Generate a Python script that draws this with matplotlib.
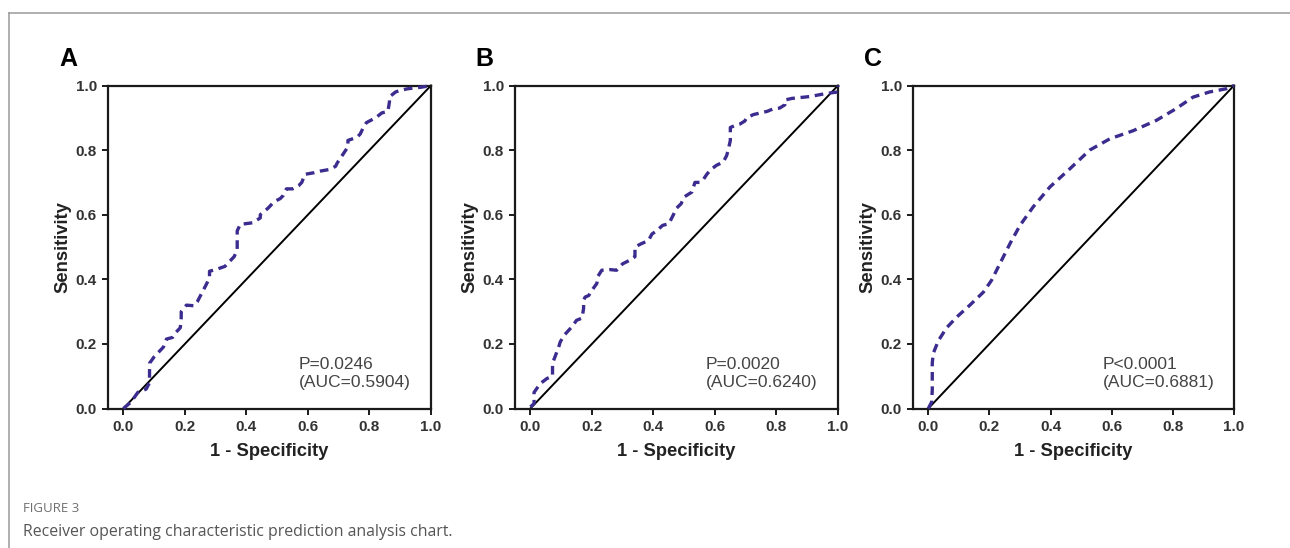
import matplotlib
matplotlib.use("Agg")
import matplotlib.pyplot as plt
from matplotlib.lines import Line2D

# ---------------- data ----------------
panel_letters = ["A", "B", "C"]
annotations = ["P=0.0246\n(AUC=0.5904)", "P=0.0020\n(AUC=0.6240)", "P<0.0001\n(AUC=0.6881)"]
tick_values = [0.0, 0.2, 0.4, 0.6, 0.8, 1.0]
tick_labels = ["0.0", "0.2", "0.4", "0.6", "0.8", "1.0"]
x_label = "1 - Specificity"
y_label = "Sensitivity"
caption_title = "FIGURE 3"
caption_text = "Receiver operating characteristic prediction analysis chart."

fpr_A = [0, 0.025, 0.047, 0.074, 0.085, 0.085, 0.10, 0.13, 0.14, 0.16, 0.17, 0.185, 0.188,
         0.188, 0.205, 0.23, 0.24, 0.27, 0.28, 0.28, 0.30, 0.33, 0.34, 0.36, 0.37, 0.37, 0.38,
         0.42, 0.445, 0.445, 0.47, 0.49, 0.51, 0.52, 0.53, 0.55, 0.57, 0.58, 0.59, 0.62, 0.64,
         0.67, 0.69, 0.695, 0.73, 0.73, 0.76, 0.77, 0.78, 0.79, 0.81, 0.82, 0.84, 0.86, 0.865,
         0.865, 0.885, 0.90, 0.925, 0.97, 1.0]
tpr_A = [0, 0.02, 0.05, 0.06, 0.08, 0.14, 0.16, 0.19, 0.215, 0.22, 0.235, 0.25, 0.28,
         0.30, 0.32, 0.318, 0.33, 0.385, 0.405, 0.425, 0.43, 0.44, 0.45, 0.47, 0.49, 0.55, 0.57,
         0.575, 0.59, 0.60, 0.62, 0.64, 0.65, 0.66, 0.68, 0.68, 0.69, 0.70, 0.725, 0.73, 0.735,
         0.74, 0.75, 0.76, 0.81, 0.83, 0.84, 0.85, 0.87, 0.885, 0.895, 0.90, 0.915, 0.92, 0.95,
         0.965, 0.98, 0.985, 0.99, 0.995, 1.0]

fpr_B = [0, 0.012, 0.012, 0.032, 0.054, 0.072, 0.072, 0.092, 0.097, 0.11, 0.135, 0.15, 0.168,
         0.173, 0.173, 0.178, 0.19, 0.20, 0.216, 0.22, 0.232, 0.26, 0.28, 0.30, 0.325, 0.34,
         0.34, 0.36, 0.384, 0.395, 0.41, 0.43, 0.45, 0.465, 0.475, 0.49, 0.50, 0.525, 0.535,
         0.55, 0.56, 0.575, 0.59, 0.605, 0.627, 0.638, 0.643, 0.65, 0.65, 0.665, 0.68, 0.697,
         0.703, 0.725, 0.77, 0.79, 0.81, 0.827, 0.827, 0.85, 0.90, 0.91, 0.96, 1.0, 1.0]
tpr_B = [0.005, 0.015, 0.05, 0.077, 0.093, 0.10, 0.14, 0.19, 0.206, 0.227, 0.253, 0.273, 0.28,
         0.31, 0.335, 0.345, 0.35, 0.366, 0.387, 0.41, 0.428, 0.43, 0.428, 0.448, 0.46, 0.47,
         0.50, 0.51, 0.52, 0.54, 0.55, 0.567, 0.572, 0.60, 0.62, 0.634, 0.655, 0.67, 0.70,
         0.70, 0.706, 0.727, 0.742, 0.753, 0.763, 0.783, 0.80, 0.83, 0.87, 0.876, 0.88, 0.89,
         0.90, 0.91, 0.92, 0.928, 0.93, 0.94, 0.955, 0.96, 0.965, 0.966, 0.975, 0.98, 1.0]

fpr_C = [0, 0.011, 0.013, 0.013, 0.016, 0.033, 0.06, 0.093, 0.136, 0.18, 0.207, 0.234, 0.267,
         0.30, 0.343, 0.398, 0.463, 0.528, 0.594, 0.67, 0.746, 0.81, 0.866, 0.92, 0.975, 1.0]
tpr_C = [0, 0.02, 0.057, 0.14, 0.17, 0.21, 0.25, 0.283, 0.32, 0.36, 0.397, 0.448, 0.51,
         0.567, 0.624, 0.686, 0.742, 0.80, 0.835, 0.86, 0.892, 0.928, 0.964, 0.98, 0.99, 1.0]

fprs = [fpr_A, fpr_B, fpr_C]
tprs = [tpr_A, tpr_B, tpr_C]

# ---------------- layout ----------------
W, H = 1290, 548
fig = plt.figure(figsize=(W / 100, H / 100), dpi=100)
fig.patch.set_facecolor("white")

ax_left_px = [108, 515, 913]
ax_right_px = [431, 838, 1234]
ax_top_px, ax_bot_px = 85.5, 408.5
letter_pos_px = [(68.5, 59), (484, 59), (873, 59)]
ylabel_offset_px = 45

curve_color = "#3b2d8f"
label_font = "Liberation Sans"

for i in range(3):
    l = ax_left_px[i] / W
    wpx = ax_right_px[i] - ax_left_px[i]
    w = wpx / W
    b = 1 - ax_bot_px / H
    h = (ax_bot_px - ax_top_px) / H
    ax = fig.add_axes([l, b, w, h])
    ax.set_xlim(-0.05, 1.0)
    ax.set_ylim(0.0, 1.0)

    ax.plot([0, 1], [0, 1], color="black", lw=1.4, clip_on=False, zorder=2)
    ax.plot(fprs[i], tprs[i], color=curve_color, lw=2.4, linestyle=(0, (2.6, 1.7)),
            clip_on=False, zorder=3)

    for s in ax.spines.values():
        s.set_linewidth(1.6)
        s.set_color("#1a1a1a")
    ax.set_xticks(tick_values)
    ax.set_xticklabels(tick_labels)
    ax.set_yticks(tick_values)
    ax.set_yticklabels(tick_labels)
    ax.tick_params(direction="out", length=4.5, width=1.4, color="#1a1a1a",
                   labelsize=11, labelcolor="#333333", pad=3.5)
    for lab in ax.get_xticklabels() + ax.get_yticklabels():
        lab.set_fontweight("bold")
        lab.set_fontfamily(label_font)

    ax.set_xlabel(x_label, fontsize=13.2, fontweight="bold", family=label_font,
                  color="#222222", va="center")
    ax.xaxis.set_label_coords(0.5, -(452 - ax_bot_px) / (ax_bot_px - ax_top_px))
    ax.set_ylabel(y_label, fontsize=13.2, fontweight="bold", family=label_font,
                  color="#222222", va="center")
    ax.yaxis.set_label_coords(-ylabel_offset_px / wpx, 0.5)

    ax.text(0.57, 0.107, annotations[i], fontsize=12.5, family=label_font,
            color="#444444", ha="left", va="center", linespacing=1.25)

    lx, ly = letter_pos_px[i]
    fig.text(lx / W, 1 - ly / H, panel_letters[i], fontsize=18, fontweight="bold",
             family=label_font, color="black", ha="center", va="center")

# frame lines
frame_y = 1 - 13 / H
frame_x = 9 / W
fig.add_artist(Line2D([frame_x, 1.0], [frame_y, frame_y], transform=fig.transFigure,
                      color="#9a9a9a", lw=1.1))
fig.add_artist(Line2D([frame_x, frame_x], [0.0, frame_y], transform=fig.transFigure,
                      color="#9a9a9a", lw=1.1))

# caption
fig.text(23 / W, 1 - 508 / H, caption_title, fontsize=9.5, family="Open Sans",
         color="#707070", ha="left", va="center")
fig.text(23 / W, 1 - 532 / H, caption_text, fontsize=11.4, family="Open Sans",
         color="#555555", ha="left", va="center")

fig.savefig("out.png", dpi=100, facecolor="white")
